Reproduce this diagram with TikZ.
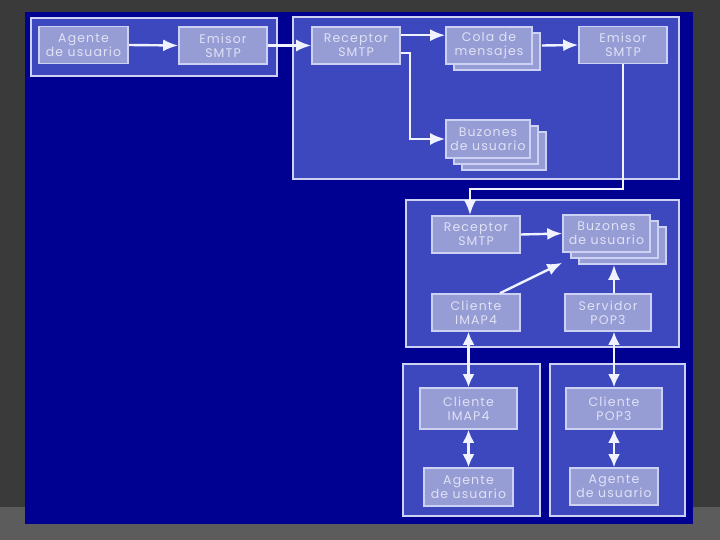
\documentclass[tikz,border=0pt]{standalone}
\usepackage{fontspec}
\setmainfont[LetterSpace=9]{Poppins}
\usepackage{tikz}
\usetikzlibrary{arrows.meta,positioning,calc,shadows}
\definecolor{slidegray}{RGB}{58,58,58}
\definecolor{stripgray}{RGB}{92,92,92}
\definecolor{slideblue}{RGB}{0,0,145}
\definecolor{panelblue}{RGB}{62,72,190}
\definecolor{boxfill}{RGB}{150,156,212}
\definecolor{edgelight}{RGB}{205,210,245}
\definecolor{textlight}{RGB}{224,226,246}
\definecolor{arrowlight}{RGB}{240,242,255}

\begin{document}
\begin{tikzpicture}[x=1pt,y=-1pt,
    panel/.style={draw=edgelight,line width=1.6pt,fill=panelblue},
    box/.style={draw=edgelight,line width=1.6pt,fill=boxfill,text=textlight,align=center,
      inner sep=0pt,minimum width=88pt,minimum height=37pt,font=\fontsize{12.5}{14}\selectfont},
    stack/.style={box,copy shadow={shadow xshift=8pt,shadow yshift=-6pt,fill=boxfill,draw=edgelight,line width=1.6pt}},
    stack2/.style={box,double copy shadow={shadow xshift=8pt,shadow yshift=-6pt,fill=boxfill,draw=edgelight,line width=1.6pt}},
    arr/.style={draw=arrowlight,line width=2.4pt,-{Latex[length=15pt,width=12pt]}},
    darr/.style={draw=arrowlight,line width=2.4pt,{Latex[length=13pt,width=12pt]}-{Latex[length=13pt,width=12pt]}}]
    % slide background
    \fill[slidegray] (0,0) rectangle (720,540);
    \fill[stripgray] (0,507) rectangle (720,540);
    \fill[slideblue] (25,12) rectangle (693,524);
    % panels
    \draw[panel] (31,18) rectangle (277,76);
    \draw[panel] (293,17) rectangle (679,179);
    \draw[panel] (406,200) rectangle (679,347);
    \draw[panel] (403,364) rectangle (540,516);
    \draw[panel] (550,364) rectangle (685,516);
    % sending side
    \node[box,minimum width=89pt] (ag1) at (83.5,45) {Agente\\de usuario};
    \node[box] (em1) at (223,45.5) {Emisor\\SMTP};
    \node[box] (re1) at (356,45.5) {Receptor\\SMTP};
    \node[stack,minimum width=86pt] (cola) at (489,45.5) {Cola de\\mensajes};
    \node[box] (em2) at (623,45) {Emisor\\SMTP};
    \node[stack2,minimum width=84pt,minimum height=38pt] (buz1) at (488,139) {Buzones\\de usuario};
    % receiving server
    \node[box] (re2) at (476,234.5) {Receptor\\SMTP};
    \node[stack2,minimum width=87pt] (buz2) at (606.5,233.5) {Buzones\\de usuario};
    \node[box] (imap1) at (476,312.5) {Cliente\\IMAP4};
    \node[box,minimum width=86pt] (pop) at (608,312.5) {Servidor\\POP3};
    % clients
    \node[box,minimum width=97pt,minimum height=41pt] (imap2) at (468.5,408.5) {Cliente\\IMAP4};
    \node[box,minimum width=89pt,minimum height=38pt] (ag2) at (468.5,487) {Agente\\de usuario};
    \node[box,minimum width=96pt,minimum height=41pt] (cpop) at (614,408.5) {Cliente\\POP3};
    \node[box] (ag3) at (614,486.5) {Agente\\de usuario};
    % arrows
    \draw[arr] (ag1.east) -- (em1.west);
    \draw[arr] (em1.east) -- (re1.west);
    \draw[arr] ($(re1.north east)+(0,9)$) -- ($(cola.north west)+(0,9)$);
    \draw[arr] ($(re1.south east)+(0,-12)$) -- ++(9,0) |- (buz1.west);
    \draw[arr] ($(cola.east)+(9,0)$) -- (em2.west);
    \draw[arr] (em2.south) -- ++(0,125) -| ($(re2.north)+(-6,0)$);
    \draw[arr] (re2.east) -- (buz2.west);
    \draw[arr] ($(imap1.north)+(24,0)$) -- ($(buz2.south west)+(0,10)$);
    \coordinate (buzbot) at ($(buz2.south)+(0,12)$);
    \draw[arr] (pop.north -| cpop.north) -- (buzbot -| cpop.north);
    \draw[darr] (imap1.south -| imap2.north) -- (imap2.north);
    \draw[darr] (pop.south -| cpop.north) -- (cpop.north);
    \draw[darr] (imap2.south) -- (ag2.north);
    \draw[darr] (cpop.south) -- (ag3.north);
\end{tikzpicture}
\end{document}
